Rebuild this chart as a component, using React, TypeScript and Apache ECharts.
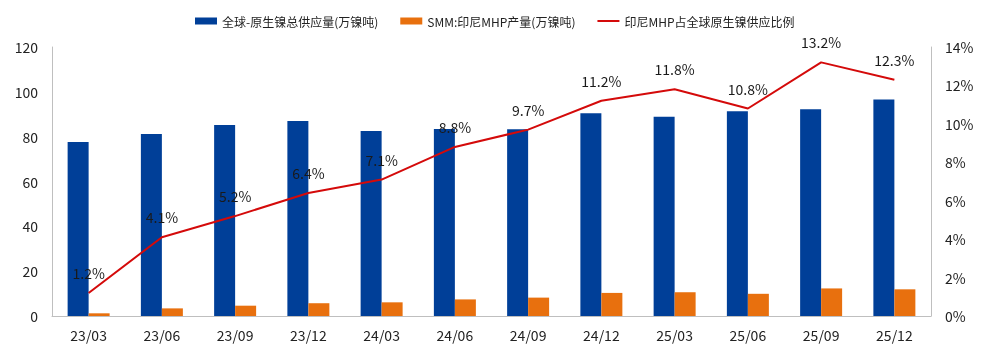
import React, { useEffect, useRef } from "react";
import * as echarts from "echarts";

const categories = ["23/03", "23/06", "23/09", "23/12", "24/03", "24/06", "24/09", "24/12", "25/03", "25/06", "25/09", "25/12"];
const globalSupply = [77.6, 81.2, 85.2, 87.0, 82.5, 83.4, 83.3, 90.4, 88.9, 91.3, 92.2, 96.6];
const mhpOutput = [1.2, 3.4, 4.6, 5.7, 6.1, 7.4, 8.2, 10.3, 10.6, 9.9, 12.3, 11.9];
const mhpShare = [1.2, 4.1, 5.2, 6.4, 7.1, 8.8, 9.7, 11.2, 11.8, 10.8, 13.2, 12.3];
const seriesNames = ["全球-原生镍总供应量(万镍吨)", "SMM:印尼MHP产量(万镍吨)", "印尼MHP占全球原生镍供应比例"];

const FONT = "'Noto Sans CJK SC', 'Noto Sans', sans-serif";

export default function App() {
  const ref = useRef<HTMLDivElement>(null);
  useEffect(() => {
    if (!ref.current) return;
    const chart = echarts.init(ref.current, undefined, { renderer: "svg" });
    chart.setOption({
      animation: false,
      textStyle: { fontFamily: FONT },
      legend: {
        top: 10,
        left: 190,
        itemWidth: 22,
        itemHeight: 7,
        itemGap: 22,
        textStyle: { fontSize: 12, color: "#222", fontFamily: FONT },
        data: [
          { name: seriesNames[0], icon: "rect" },
          { name: seriesNames[1], icon: "rect" },
          { name: seriesNames[2], icon: "path://M0,0H22V2H0Z" },
        ],
      },
      grid: { left: 52, right: 50, top: 47, bottom: 37 },
      xAxis: {
        type: "category",
        data: categories,
        axisLine: { lineStyle: { color: "#bfbfbf" } },
        axisTick: { show: false },
        axisLabel: { fontSize: 14, color: "#222", margin: 12, fontFamily: FONT },
      },
      yAxis: [
        {
          type: "value",
          min: 0,
          max: 120,
          interval: 20,
          splitLine: { show: false },
          axisLine: { show: true, lineStyle: { color: "#bfbfbf" } },
          axisTick: { show: false },
          axisLabel: { fontSize: 14, color: "#222", margin: 14, fontFamily: FONT },
        },
        {
          type: "value",
          min: 0,
          max: 14,
          interval: 2,
          splitLine: { show: false },
          axisLine: { show: true, lineStyle: { color: "#bfbfbf" } },
          axisTick: { show: false },
          axisLabel: { fontSize: 14, color: "#222", margin: 14, formatter: "{value}%", fontFamily: FONT },
        },
      ],
      series: [
        {
          name: seriesNames[0],
          type: "bar",
          data: globalSupply,
          barWidth: 21,
          barGap: "0%",
          itemStyle: { color: "#003f98" },
        },
        {
          name: seriesNames[1],
          type: "bar",
          data: mhpOutput,
          barWidth: 21,
          barGap: "0%",
          itemStyle: { color: "#e8700e" },
        },
        {
          name: seriesNames[2],
          type: "line",
          yAxisIndex: 1,
          data: mhpShare,
          symbol: "none",
          lineStyle: { color: "#d40a0a", width: 2 },
          itemStyle: { color: "#d40a0a" },
        },
        {
          name: "labels",
          type: "scatter",
          yAxisIndex: 1,
          data: mhpShare,
          symbolSize: 0,
          silent: true,
          z: 10,
          itemStyle: { opacity: 1, color: "#222" },
          label: {
            show: true,
            position: "top",
            distance: 13,
            fontSize: 14,
            color: "#1a1a1a",
            opacity: 1,
            textBorderWidth: 0,
            textBorderColor: "transparent",
            fontFamily: FONT,
            formatter: (p: any) => p.value.toFixed(1) + "%",
          },
        },
      ],
    });
    return () => chart.dispose();
  }, []);
  return <div ref={ref} style={{ position: "fixed", left: 0, top: 0, width: 981, height: 353 }} />;
}
